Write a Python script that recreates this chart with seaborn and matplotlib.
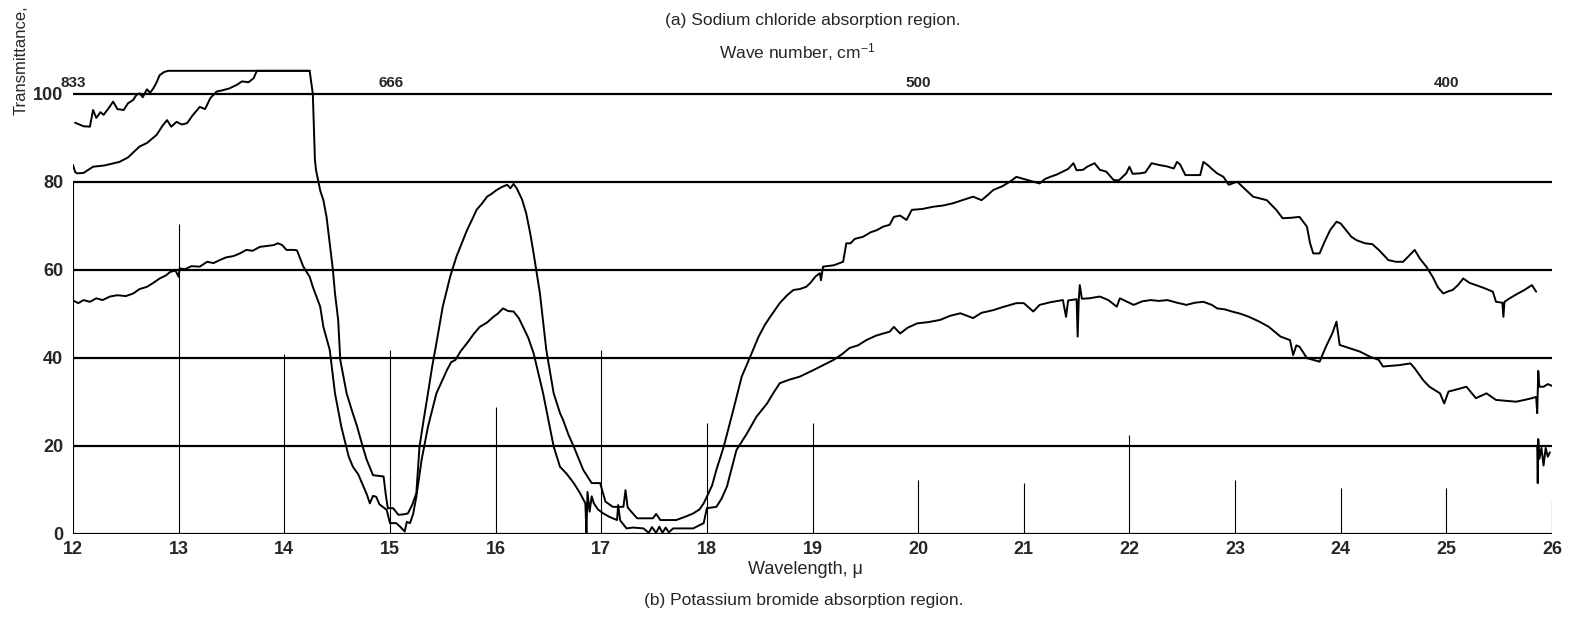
import matplotlib
matplotlib.use("Agg")
import matplotlib.pyplot as plt
import seaborn as sns

# upper trace (sample 1) - wavelength in microns, transmittance in percent
upper_wl = [12.02, 12.10, 12.16, 12.19, 12.22, 12.26, 12.29, 12.34, 12.38, 12.42, 12.48, 12.52, 12.57,
            12.60, 12.63, 12.66, 12.70, 12.73, 12.76, 12.79, 12.82, 12.86, 12.90, 14.24, 14.27, 14.29,
            14.30, 14.34, 14.37, 14.40, 14.43, 14.46, 14.48, 14.51, 14.53, 14.59, 14.64, 14.69, 14.74,
            14.78, 14.84, 14.94, 14.96, 14.98, 15.03, 15.08, 15.13, 15.17, 15.21, 15.25, 15.28, 15.32,
            15.36, 15.40, 15.44, 15.50, 15.57, 15.63, 15.68, 15.73, 15.78, 15.82, 15.87, 15.92, 15.96,
            16.01, 16.06, 16.11, 16.14, 16.17, 16.20, 16.25, 16.29, 16.33, 16.36, 16.42, 16.48, 16.55,
            16.61, 16.64, 16.69, 16.74, 16.83, 16.91, 16.99, 17.04, 17.11, 17.21, 17.23, 17.25, 17.27,
            17.34, 17.42, 17.49, 17.52, 17.56, 17.64, 17.71, 17.80, 17.87, 17.93, 17.97, 18.00, 18.05,
            18.09, 18.16, 18.25, 18.33, 18.41, 18.49, 18.55, 18.60, 18.69, 18.76, 18.82, 18.88, 18.94,
            18.98, 19.03, 19.07, 19.08, 19.10, 19.20, 19.29, 19.32, 19.36, 19.40, 19.48, 19.55, 19.61,
            19.67, 19.73, 19.77, 19.83, 19.89, 19.94, 20.04, 20.14, 20.24, 20.33, 20.43, 20.52, 20.60,
            20.66, 20.71, 20.80, 20.88, 20.93, 21.03, 21.09, 21.15, 21.20, 21.25, 21.31, 21.37, 21.42,
            21.47, 21.50, 21.56, 21.60, 21.67, 21.72, 21.78, 21.85, 21.90, 21.97, 22.00, 22.03, 22.10,
            22.15, 22.21, 22.28, 22.35, 22.42, 22.45, 22.48, 22.53, 22.60, 22.67, 22.70, 22.74, 22.79,
            22.83, 22.89, 22.94, 23.02, 23.10, 23.17, 23.30, 23.39, 23.45, 23.53, 23.61, 23.68, 23.71,
            23.74, 23.80, 23.85, 23.90, 23.96, 24.00, 24.05, 24.10, 24.15, 24.23, 24.30, 24.36, 24.40,
            24.45, 24.52, 24.59, 24.64, 24.70, 24.75, 24.81, 24.87, 24.92, 24.97, 25.02, 25.06, 25.11,
            25.16, 25.22, 25.28, 25.36, 25.44, 25.47, 25.53, 25.54, 25.55, 25.60, 25.67, 25.74, 25.81,
            25.85]
upper_t = [93.4, 92.6, 92.5, 96.3, 94.5, 95.8, 95.2, 96.8, 98.2, 96.5, 96.3, 97.8, 98.6,
           99.7, 100.1, 99.2, 101.0, 100.2, 101.2, 102.5, 104.2, 104.9, 105.2, 105.2, 100.0, 85.0,
           82.7, 78.0, 75.8, 72.0, 66.0, 60.0, 54.6, 48.6, 39.5, 31.9, 28.0, 24.3, 20.0,
           16.8, 13.3, 13.0, 9.0, 5.8, 5.8, 4.3, 4.4, 4.6, 6.5, 9.2, 19.8, 26.0,
           31.9, 38.0, 43.3, 51.6, 58.4, 63.0, 66.0, 69.0, 71.5, 73.6, 75.0, 76.6, 77.2,
           78.1, 78.8, 79.3, 78.5, 79.5, 78.5, 76.0, 72.8, 68.0, 63.7, 54.6, 41.8, 31.9,
           27.4, 25.8, 22.5, 19.8, 14.5, 11.5, 11.5, 7.3, 6.1, 6.1, 9.9, 6.0, 5.4,
           3.5, 3.5, 3.5, 4.5, 3.1, 3.1, 3.1, 3.9, 4.6, 5.5, 6.9, 8.4, 11.0,
           14.5, 19.8, 28.1, 35.7, 40.2, 44.8, 47.5, 49.3, 52.4, 54.2, 55.4, 55.6, 56.1,
           57.0, 58.5, 59.2, 57.6, 60.7, 61.0, 61.8, 66.0, 66.0, 67.0, 67.5, 68.5, 69.0,
           69.8, 70.2, 72.0, 72.3, 71.3, 73.6, 73.8, 74.3, 74.6, 75.1, 75.9, 76.6, 75.8,
           77.0, 78.1, 79.0, 80.2, 81.1, 80.4, 80.0, 79.6, 80.6, 81.1, 81.6, 82.3, 82.9,
           84.2, 82.6, 82.7, 83.4, 84.2, 82.7, 82.3, 80.4, 80.3, 81.9, 83.4, 81.8, 81.9,
           82.1, 84.2, 83.8, 83.5, 83.0, 84.5, 83.9, 81.5, 81.5, 81.5, 84.5, 83.8, 82.7,
           81.9, 81.1, 79.3, 80.0, 78.2, 76.6, 75.8, 73.6, 71.7, 71.8, 72.0, 69.8, 66.0,
           63.7, 63.7, 66.5, 69.0, 70.9, 70.5, 69.0, 67.5, 66.7, 66.0, 65.8, 64.5, 63.5,
           62.2, 61.8, 61.8, 63.0, 64.5, 62.5, 60.7, 58.4, 56.0, 54.6, 55.1, 55.4, 56.5,
           58.0, 57.0, 56.5, 55.8, 55.0, 52.7, 52.5, 49.3, 52.7, 53.5, 54.5, 55.4, 56.5,
           55.0]

# second short trace that runs into the pen limit
second_wl = [12.00, 12.02, 12.04, 12.10, 12.19, 12.30, 12.44, 12.52, 12.63, 12.70, 12.79, 12.85, 12.89,
             12.93, 12.98, 13.03, 13.08, 13.13, 13.20, 13.25, 13.30, 13.36, 13.42, 13.48, 13.55, 13.60,
             13.66, 13.71, 13.74, 14.24]
second_t = [83.8, 82.2, 81.9, 82.0, 83.4, 83.7, 84.5, 85.5, 88.0, 88.8, 90.6, 92.8, 94.0,
            92.5, 93.6, 93.0, 93.3, 95.0, 97.0, 96.5, 99.0, 100.5, 100.8, 101.2, 102.0, 102.8,
            102.6, 103.5, 105.2, 105.2]

# lower trace (sample 2)
lower_wl = [12.00, 12.05, 12.10, 12.16, 12.22, 12.28, 12.35, 12.42, 12.50, 12.57, 12.63, 12.70, 12.76,
            12.82, 12.88, 12.92, 12.97, 13.00, 13.01, 13.06, 13.12, 13.20, 13.27, 13.33, 13.39, 13.45,
            13.52, 13.58, 13.64, 13.70, 13.77, 13.84, 13.90, 13.94, 13.98, 14.02, 14.09, 14.12, 14.18,
            14.24, 14.27, 14.34, 14.37, 14.43, 14.48, 14.54, 14.61, 14.65, 14.70, 14.75, 14.78, 14.81,
            14.84, 14.87, 14.90, 14.97, 15.00, 15.06, 15.10, 15.14, 15.16, 15.19, 15.22, 15.25, 15.30,
            15.36, 15.44, 15.54, 15.58, 15.62, 15.67, 15.73, 15.79, 15.85, 15.92, 15.98, 16.02, 16.07,
            16.12, 16.17, 16.22, 16.26, 16.31, 16.36, 16.45, 16.55, 16.61, 16.67, 16.74, 16.80, 16.85,
            16.86, 16.87, 16.89, 16.91, 16.93, 16.97, 17.02, 17.08, 17.15, 17.16, 17.18, 17.24, 17.30,
            17.40, 17.45, 17.48, 17.52, 17.55, 17.58, 17.61, 17.64, 17.68, 17.71, 17.80, 17.87, 17.97,
            18.00, 18.09, 18.14, 18.19, 18.28, 18.38, 18.47, 18.57, 18.63, 18.69, 18.78, 18.88, 19.01,
            19.10, 19.20, 19.28, 19.35, 19.43, 19.51, 19.60, 19.67, 19.73, 19.77, 19.83, 19.90, 19.99,
            20.10, 20.21, 20.30, 20.40, 20.52, 20.60, 20.71, 20.80, 20.93, 21.00, 21.09, 21.15, 21.25,
            21.37, 21.40, 21.42, 21.50, 21.51, 21.52, 21.53, 21.55, 21.62, 21.72, 21.80, 21.88, 21.91,
            22.04, 22.12, 22.20, 22.28, 22.36, 22.45, 22.54, 22.62, 22.70, 22.78, 22.83, 22.90, 22.97,
            23.05, 23.13, 23.23, 23.32, 23.43, 23.52, 23.55, 23.58, 23.61, 23.68, 23.80, 23.86, 23.92,
            23.96, 23.99, 24.09, 24.18, 24.28, 24.36, 24.40, 24.55, 24.66, 24.70, 24.78, 24.84, 24.94,
            24.98, 25.02, 25.10, 25.19, 25.28, 25.38, 25.47, 25.56, 25.66, 25.74, 25.81, 25.85, 25.86,
            25.87, 25.88, 25.92, 25.96, 26.00]
lower_t = [53.0, 52.4, 53.1, 52.7, 53.5, 53.1, 53.9, 54.2, 54.0, 54.6, 55.6, 56.1, 57.0,
           58.0, 58.7, 59.5, 59.8, 58.4, 60.3, 60.1, 60.8, 60.7, 61.8, 61.5, 62.2, 62.8,
           63.1, 63.7, 64.5, 64.3, 65.2, 65.4, 65.6, 66.0, 65.6, 64.5, 64.5, 64.4, 60.7,
           58.4, 56.1, 51.6, 47.0, 41.8, 31.9, 24.3, 17.5, 15.2, 13.5, 10.7, 9.0, 6.9,
           8.6, 8.4, 6.7, 5.4, 2.4, 2.4, 1.5, 0.5, 2.7, 2.4, 4.5, 8.4, 16.8,
           24.3, 31.9, 37.2, 39.0, 39.5, 41.5, 43.3, 45.3, 47.0, 48.0, 49.3, 50.0, 51.2,
           50.6, 50.5, 49.0, 47.0, 44.5, 41.0, 31.9, 19.8, 15.2, 13.7, 11.5, 9.2, 6.9,
           0.0, 9.5, 5.0, 8.5, 6.9, 5.5, 4.6, 3.8, 3.1, 6.5, 3.0, 1.2, 1.4,
           1.2, 0.2, 1.5, 0.2, 1.6, 0.2, 1.4, 0.3, 1.2, 1.2, 1.2, 1.2, 2.4,
           5.8, 6.1, 8.0, 10.7, 19.0, 22.8, 26.6, 29.6, 32.0, 34.2, 35.0, 35.7, 37.2,
           38.3, 39.5, 40.8, 42.2, 42.8, 44.0, 45.0, 45.5, 45.9, 47.0, 45.5, 46.8, 47.8,
           48.1, 48.6, 49.5, 50.1, 49.0, 50.2, 50.8, 51.5, 52.4, 52.4, 50.5, 52.0, 52.6,
           53.1, 49.3, 53.0, 53.3, 44.8, 53.0, 56.5, 53.4, 53.5, 53.9, 53.1, 51.6, 53.5,
           52.0, 52.8, 53.1, 52.9, 53.1, 52.5, 52.0, 52.5, 52.7, 52.0, 51.2, 51.0, 50.5,
           50.0, 49.3, 48.2, 47.0, 44.8, 44.0, 40.6, 42.8, 42.5, 39.9, 39.1, 42.5, 45.5,
           48.2, 42.9, 42.1, 41.4, 40.2, 39.5, 38.0, 38.3, 38.7, 37.6, 34.9, 33.4, 31.9,
           29.6, 32.3, 32.8, 33.4, 30.8, 31.9, 30.4, 30.2, 30.0, 30.4, 30.8, 31.1, 27.4,
           37.0, 33.4, 33.4, 34.0, 33.6]

# small fragment at the far right end
tail_wl = [25.86, 25.865, 25.87, 25.88, 25.90, 25.92, 25.94, 25.96, 25.98]
tail_t = [20.0, 11.5, 21.5, 17.0, 19.5, 15.5, 19.5, 17.5, 18.5]

# chart frame
wl_ticks = list(range(12, 27))
vline_tops = [80, 70.5, 40.8, 41.8, 28.9, 41.8, 25.1, 25.1, 12.2, 11.5, 22.4, 12.2, 10.5, 10.3, 7.9]
t_ticks = [0, 20, 40, 60, 80, 100]
wavenumbers = [833, 666, 500, 400]

sns.set_style("white")
plt.rcParams["font.family"] = ["Liberation Sans", "DejaVu Sans"]
plt.rcParams["mathtext.default"] = "regular"

fig = plt.figure(figsize=(15.79, 6.19), dpi=100)
ax = fig.add_axes([73 / 1579, 1 - 533.7 / 619, 1479 / 1579, 484 / 619])

ax.hlines(t_ticks, 12, 26, color="black", lw=1.6)
ax.vlines(wl_ticks, 0, vline_tops, color="black", lw=0.8)

for xs, ys in [(upper_wl, upper_t), (second_wl, second_t), (lower_wl, lower_t), (tail_wl, tail_t)]:
    sns.lineplot(x=xs, y=ys, ax=ax, color="black", lw=1.4, sort=False, estimator=None)

for wn in wavenumbers:
    ax.text(10000 / wn, 100.8, str(wn), ha="center", va="bottom", fontsize=11, fontweight="bold",
            clip_on=False)

ax.set_xlim(12, 26)
ax.set_ylim(0, 110)
ax.set_xticks(wl_ticks)
ax.set_xticklabels([str(v) for v in wl_ticks], fontsize=13, fontweight="bold")
ax.set_yticks(t_ticks)
ax.set_yticklabels([str(v) for v in t_ticks], fontsize=13, fontweight="bold")
ax.tick_params(length=0, pad=5)
ax.tick_params(axis="y", pad=7)
for s in ax.spines.values():
    s.set_visible(False)
ax.set_xlabel("")
ax.set_ylabel("")

fig.text(813 / 1579, 1 - 20 / 619, "(a) Sodium chloride absorption region.", ha="center", va="center",
         fontsize=12.5)
fig.text(797 / 1579, 1 - 52 / 619, "Wave number, cm$^{-1}$", ha="center", va="center", fontsize=12.5)
fig.text(805 / 1579, 1 - 569 / 619, "Wavelength, \u03bc", ha="center", va="center", fontsize=13)
fig.text(804 / 1579, 1 - 600 / 619, "(b) Potassium bromide absorption region.", ha="center",
         va="center", fontsize=12.5)
fig.text(21 / 1579, 1 - 115 / 619, "Transmittance,", rotation=90, ha="center", va="bottom", fontsize=12)

fig.savefig("out.png", dpi=100, facecolor="white")
